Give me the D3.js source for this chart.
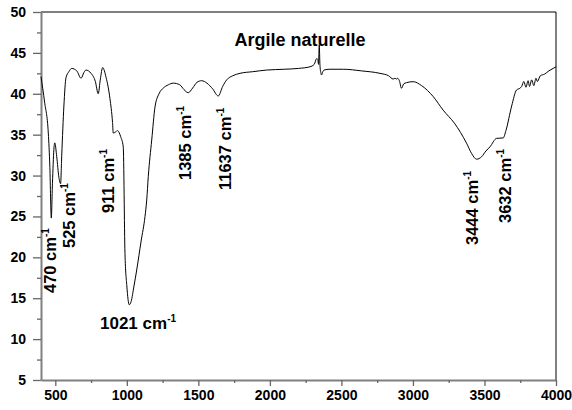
<!DOCTYPE html>
<html>
<head>
<meta charset="utf-8">
<script src="https://cdn.jsdelivr.net/npm/d3@7"></script>
<style>
  body { margin: 0; background: #fff; }
  text { font-family: "Liberation Sans", Arial, sans-serif; font-weight: bold; fill: #000; }
</style>
</head>
<body>
<div id="chart"></div>
<script>
// wavenumber (cm-1) and transmittance
const wavenumbers = [400, 425, 451, 462, 472, 480, 490, 496, 510, 525, 537, 545, 560, 575, 595, 614, 650, 680, 700, 714, 750, 780, 800, 815, 831, 855, 882, 900, 905, 920, 933, 945, 957, 975, 987, 1000, 1017, 1030, 1050, 1069, 1100, 1127, 1139, 1150, 1174, 1197, 1225, 1255, 1290, 1325, 1370, 1400, 1429, 1460, 1490, 1523, 1560, 1600, 1639, 1670, 1698, 1740, 1791, 1880, 1977, 2100, 2200, 2280, 2310, 2327, 2335, 2340, 2345, 2350, 2356, 2361, 2370, 2378, 2420, 2513, 2640, 2769, 2830, 2862, 2874, 2886, 2892, 2905, 2920, 2935, 2955, 3002, 3060, 3142, 3211, 3290, 3375, 3410, 3445, 3480, 3510, 3538, 3585, 3631, 3650, 3690, 3724, 3747, 3760, 3775, 3790, 3805, 3815, 3830, 3845, 3860, 3870, 3890, 3920, 3950, 3980, 4000];
const transmittance = [42.1, 39.0, 35.2, 31.0, 24.8, 29.0, 33.2, 34.0, 32.3, 29.8, 29.0, 32.5, 38.5, 42.0, 42.7, 43.1, 42.8, 41.9, 42.6, 42.9, 42.5, 41.5, 40.0, 41.8, 43.2, 42.0, 39.4, 36.5, 35.2, 35.3, 35.5, 35.3, 34.75, 33.5, 20.5, 16.5, 14.2, 14.6, 16.5, 18.45, 22.0, 25.0, 27.0, 29.9, 34.35, 38.4, 40.0, 40.7, 41.1, 41.3, 41.1, 40.5, 40.13, 40.7, 41.4, 41.6, 41.3, 40.6, 39.73, 40.9, 41.7, 42.2, 42.5, 42.7, 42.9, 43.0, 43.1, 43.3, 43.6, 44.3, 44.2, 43.6, 46.0, 43.5, 42.6, 42.3, 42.7, 42.9, 43.0, 43.0, 42.8, 42.5, 42.2, 41.8, 41.9, 41.8, 41.9, 41.6, 40.67, 41.2, 41.36, 41.48, 41.0, 39.65, 38.0, 36.4, 33.95, 32.7, 32.0, 32.3, 33.0, 33.5, 34.55, 34.6, 35.5, 38.5, 40.46, 40.67, 40.9, 41.5, 40.8, 41.6, 40.9, 41.7, 41.0, 41.9, 41.5, 42.2, 42.4, 42.8, 43.1, 43.3];

const peakLabels = ["470", "525", "911", "1385", "11637", "3444", "3632"];
const xTicks = [500, 1000, 1500, 2000, 2500, 3000, 3500, 4000];
const yTicks = [5, 10, 15, 20, 25, 30, 35, 40, 45, 50];
const title = "Argile naturelle";

const width = 572, height = 410;
const plotLeft = 41, plotRight = 556, plotTop = 12, plotBottom = 380;

const svg = d3.select('#chart').append('svg')
    .attr('width', width)
    .attr('height', height);

const x = d3.scaleLinear().domain([400, 4000]).range([plotLeft, plotRight]);
const y = d3.scaleLinear().domain([5, 50]).range([plotBottom, plotTop]);

// frame: top and right in black
svg.append('line').attr('x1', plotLeft).attr('x2', plotRight).attr('y1', plotTop).attr('y2', plotTop)
    .attr('stroke', '#000').attr('stroke-width', 1);
svg.append('line').attr('x1', plotRight).attr('x2', plotRight).attr('y1', plotTop).attr('y2', plotBottom)
    .attr('stroke', '#000').attr('stroke-width', 1);

// y axis
svg.append('g').attr('transform', 'translate(' + plotLeft + ',0)')
    .call(d3.axisLeft(y).tickValues(yTicks).tickSize(8).tickSizeOuter(0).tickPadding(7).tickFormat(d3.format('d')));
svg.append('g').attr('transform', 'translate(' + plotLeft + ',0)')
    .call(d3.axisLeft(y).tickValues(d3.range(7.5, 50, 5)).tickSize(4).tickFormat(''))
    .select('.domain').remove();

// x axis
svg.append('g').attr('transform', 'translate(0,' + plotBottom + ')')
    .call(d3.axisBottom(x).tickValues(xTicks).tickSize(6).tickSizeOuter(0).tickPadding(4).tickFormat(d3.format('d')));
svg.append('g').attr('transform', 'translate(0,' + plotBottom + ')')
    .call(d3.axisBottom(x).tickValues(d3.range(750, 4000, 500)).tickSize(3).tickFormat(''))
    .select('.domain').remove();

svg.selectAll('.domain').attr('stroke', '#808080').attr('stroke-width', 2);
svg.selectAll('.tick line').attr('stroke', '#666').attr('stroke-width', 1.3);
svg.selectAll('.tick text').style('font-size', '14px').style('font-weight', 'bold')
    .style('font-family', '"Liberation Sans", Arial, sans-serif').attr('fill', '#000');

// spectrum
const line = d3.line()
    .x((d, i) => x(wavenumbers[i]))
    .y(d => y(d))
    .curve(d3.curveMonotoneX);

svg.append('path')
    .datum(transmittance)
    .attr('d', line)
    .attr('fill', 'none')
    .attr('stroke', '#000')
    .attr('stroke-width', 1);

// peak labels (rotated)
const labelPos = [[56, 293], [75, 248], [114, 213], [191, 180], [231, 190], [478, 245], [511, 223]];

function addLabel(g, txt) {
    g.append('tspan').text(txt + ' cm');
    g.append('tspan').text('-1').style('font-size', '10px').attr('dy', -7);
}

peakLabels.forEach((p, i) => {
    const t = svg.append('text')
        .attr('transform', 'translate(' + labelPos[i][0] + ',' + labelPos[i][1] + ') rotate(-90)')
        .style('font-size', '16.5px');
    addLabel(t, p);
});

const lbl1021 = svg.append('text')
    .attr('x', 100).attr('y', 329)
    .style('font-size', '17px');
addLabel(lbl1021, '1021');

svg.append('text')
    .attr('x', 300).attr('y', 46)
    .attr('text-anchor', 'middle')
    .style('font-size', '18px')
    .text(title);
</script>
</body>
</html>
